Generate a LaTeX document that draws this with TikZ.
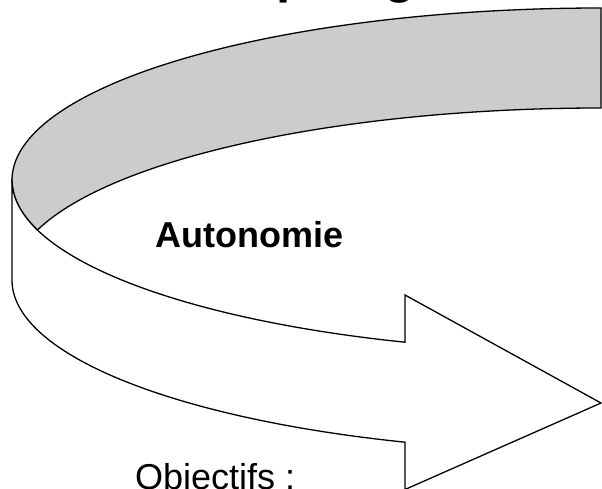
\documentclass[tikz,border=0pt]{standalone}
\usepackage{fontspec}
\setmainfont{Liberation Sans}
\begin{document}
\begin{tikzpicture}[x=1pt,y=1pt,
  outline/.style={draw=black,line width=1.3pt,line join=miter},
  band/.style={outline,fill=black!20},
  front/.style={outline,fill=white},
  ell/.style={x radius=589pt,y radius=172pt},
  title/.style={inner sep=0pt,font=\bfseries\fontsize{51}{56}\selectfont},
  label/.style={inner sep=0pt,font=\bfseries\fontsize{36}{40}\selectfont},
  plain/.style={inner sep=0pt,font=\fontsize{36}{40}\selectfont}]
\useasboundingbox (0,0) rectangle (602,488);
\clip (0,0) rectangle (602,488);
% back (grey) surface of the ribbon
\path[band] (601,480) arc[start angle=90,end angle=196.9,ell]
  arc[start angle=163.1,end angle=90,ell] -- cycle;
% front (white) surface with the arrow head
\path[front] (12,308) -- (12,208) arc[start angle=180,end angle=250.56,ell]
  -- (405,-1.5) -- (601,85) -- (405,193) -- (405,145.8)
  arc[start angle=250.56,end angle=180,ell] -- cycle;
\node[title,anchor=base west] (top) at (211,495.5) {Repérage};
\node[label,anchor=base west] (auto) at (155,241) {Autonomie};
\node[plain,anchor=base west] (obj) at (135,-1) {Objectifs :};
\end{tikzpicture}
\end{document}
